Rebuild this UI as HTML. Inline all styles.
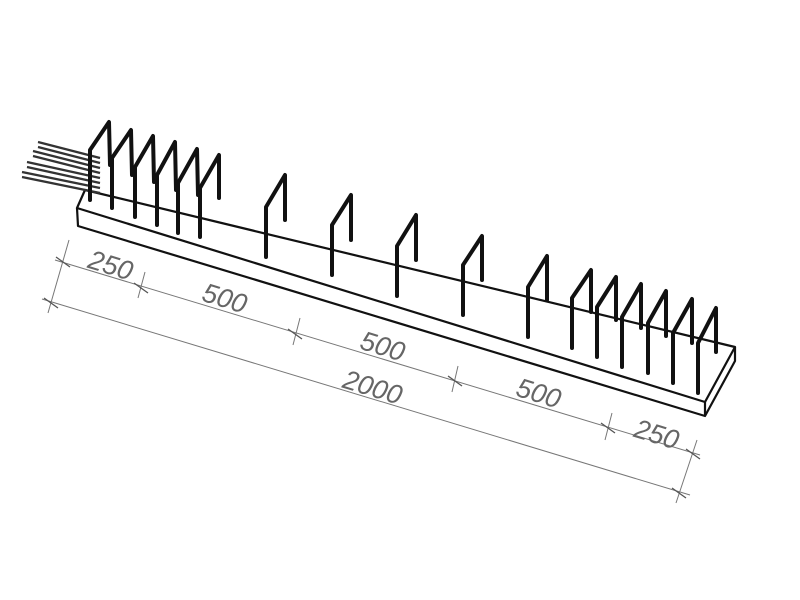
<!DOCTYPE html>
<html><head><meta charset="utf-8"><style>html,body{margin:0;padding:0;background:#fff}svg{display:block}</style></head>
<body>
<svg width="800" height="600" viewBox="0 0 800 600" xmlns="http://www.w3.org/2000/svg">
<rect width="800" height="600" fill="#fff"/>
<!-- slab -->
<g fill="none" stroke="#111" stroke-width="2.2" stroke-linejoin="round">
<polygon points="85,190 735,347 705,402 77,208" fill="#fff"/>
<polyline points="77,208 78,226 705,416 735,361 735,347"/>
<line x1="705" y1="402" x2="705" y2="416"/>
</g>
<!-- left protruding bars -->
<g stroke="#333" stroke-width="2.2" fill="none">
<line x1="38" y1="142" x2="100" y2="158"/><line x1="38" y1="147" x2="100" y2="163"/>
<line x1="33" y1="151" x2="100" y2="168"/><line x1="33" y1="156" x2="100" y2="173"/>
<line x1="27" y1="162" x2="100" y2="178"/><line x1="27" y1="167" x2="100" y2="183"/>
<line x1="22" y1="172" x2="100" y2="188"/><line x1="22" y1="177" x2="100" y2="193"/>
</g>
<!-- stirrups -->
<g stroke="#111" stroke-width="4" fill="none" stroke-linejoin="round" stroke-linecap="round">
<path d="M90,200 L90,150 L109,122 L110,165"/>
<path d="M112,208 L112,158 L131,130 L132,175"/>
<path d="M135,217 L135,167 L153,136 L154,182"/>
<path d="M157,225 L157,175 L175,142 L176,190"/>
<path d="M178,233 L178,183 L197,149 L198,195"/>
<path d="M200,237 L200,188 L219,155 L219,198"/>
<path d="M266,257 L266,207 L285,175 L285,220"/>
<path d="M332,275 L332,225 L351,195 L351,240"/>
<path d="M397,296 L397,246 L416,215 L416,260"/>
<path d="M463,315 L463,265 L482,236 L482,280"/>
<path d="M528,337 L528,287 L547,256 L547,300"/>
<path d="M572,348 L572,298 L591,270 L591,312"/>
<path d="M597,357 L597,307 L616,277 L616,320"/>
<path d="M622,367 L622,317 L641,284 L641,328"/>
<path d="M648,373 L648,323 L666,291 L666,336"/>
<path d="M673,383 L673,333 L692,299 L692,343"/>
<path d="M698,393 L698,343 L716,308 L716,352"/>
</g>
<!-- dimensions -->
<g stroke="#777" stroke-width="1" fill="none">
<line x1="55" y1="260" x2="700" y2="455"/>
<line x1="42" y1="299" x2="690" y2="495"/>
<line x1="69" y1="240" x2="48" y2="313"/>
<line x1="697" y1="440" x2="676" y2="503"/>
<line x1="145" y1="272" x2="138" y2="298"/>
<line x1="300" y1="318" x2="293" y2="345"/>
<line x1="458" y1="366" x2="452" y2="392"/>
<line x1="612" y1="413" x2="605" y2="440"/>
</g>
<g stroke="#555" stroke-width="1.3">
<line x1="56" y1="257" x2="70" y2="267"/><line x1="44" y1="298" x2="58" y2="308"/>
<line x1="134" y1="283" x2="148" y2="293"/><line x1="288" y1="329" x2="302" y2="339"/>
<line x1="448" y1="376" x2="462" y2="386"/><line x1="601" y1="423" x2="615" y2="433"/>
<line x1="686" y1="449" x2="700" y2="459"/><line x1="672" y1="488" x2="686" y2="498"/>
</g>
<g font-family="Liberation Sans, sans-serif" font-style="italic" font-size="27" fill="#666" text-anchor="middle">
<text transform="translate(108,274) rotate(17)">250</text>
<text transform="translate(222,307) rotate(17)">500</text>
<text transform="translate(380,355) rotate(17)">500</text>
<text transform="translate(370,396) rotate(17)">2000</text>
<text transform="translate(536,402) rotate(17)">500</text>
<text transform="translate(654,443) rotate(17)">250</text>
</g>
</svg>
</body></html>
